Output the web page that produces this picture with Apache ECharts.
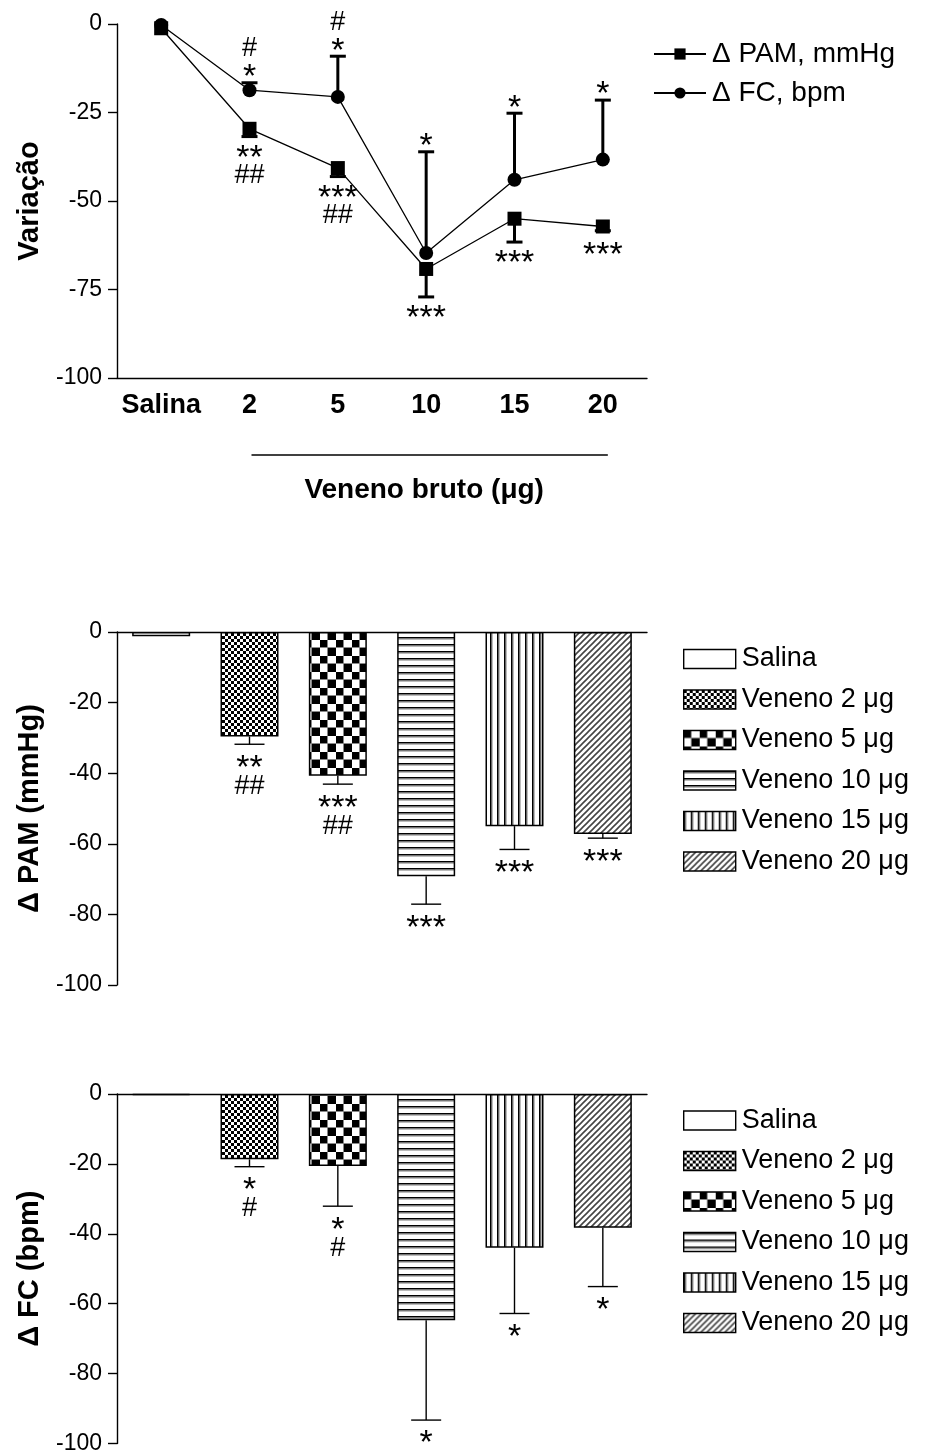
<!DOCTYPE html>
<html>
<head>
<meta charset="utf-8">
<script src="https://cdn.jsdelivr.net/npm/echarts@6/dist/echarts.min.js"></script>
<style>
  html, body { margin: 0; padding: 0; background: #fff; }
  #main { width: 925px; height: 1455px; }
</style>
</head>
<body>
<div id="main"></div>
<script>
// ---------- data ----------
const categories = ['Salina', '2', '5', '10', '15', '20'];
const groupNames = ['Salina', 'Veneno 2 μg', 'Veneno 5 μg', 'Veneno 10 μg', 'Veneno 15 μg', 'Veneno 20 μg'];
const pamMean = [-1.2, -29.6, -40.7, -69.2, -55.0, -57.2];
const pamSem  = [0, 2.2, 2.4, 7.9, 6.6, 1.2];
const fcMean  = [-0.3, -18.7, -20.6, -64.7, -44.0, -38.3];
const fcSem   = [0, 2.1, 11.5, 28.6, 18.8, 16.8];
const pamSig  = ['', '**\n##', '***\n##', '***', '***', '***'];
const fcSig   = ['', '*\n#', '*\n#', '*', '*', '*'];
const lineTicks = [0, -25, -50, -75, -100];
const barTicks  = [0, -20, -40, -60, -80, -100];
const lineNames = ['Δ PAM, mmHg', 'Δ FC, bpm'];
const xTitle = 'Veneno bruto (μg)';

// ---------- patterns ----------
function mk(w, h, draw) {
  const c = document.createElement('canvas');
  c.width = w; c.height = h;
  const g = c.getContext('2d');
  g.fillStyle = '#fff'; g.fillRect(0, 0, w, h);
  draw(g, w, h);
  return { image: c, repeat: 'repeat' };
}
const patterns = [
  '#ffffff',
  mk(6, 6, (g) => { g.fillStyle = '#000'; g.fillRect(0, 0, 3, 3); g.fillRect(3, 3, 3, 3); }),
  mk(16, 16, (g) => { g.fillStyle = '#000'; g.fillRect(0, 0, 8, 8); g.fillRect(8, 8, 8, 8);
                      g.fillStyle = '#888'; g.fillRect(7, 0, 1, 16); g.fillRect(0, 7, 16, 1); }),
  mk(8, 7, (g) => { g.fillStyle = '#000'; g.fillRect(0, 0, 8, 1); g.fillStyle = '#777'; g.fillRect(0, 1, 8, 1); g.fillStyle = '#bbb'; g.fillRect(0, 2, 8, 1); }),
  mk(7, 8, (g) => { g.fillStyle = '#000'; g.fillRect(0, 0, 1, 8); g.fillStyle = '#666'; g.fillRect(1, 0, 1, 8); g.fillStyle = '#bbb'; g.fillRect(2, 0, 1, 8); }),
  mk(6, 6, (g) => { g.strokeStyle = '#444'; g.lineWidth = 1.6;
                    g.beginPath(); g.moveTo(-1, 7); g.lineTo(7, -1); g.moveTo(-7, 7); g.lineTo(7, -7); g.moveTo(-1, 13); g.lineTo(13, -1); g.stroke(); })
];

// ---------- helpers ----------
const FONT = "'Liberation Sans', Arial, sans-serif";
const BLACK = '#000';

function errData(mean, sem, dir) {
  return mean.map((m, i) => [i, m, m + dir * sem[i]]);
}
function errRender(capHalf, width) {
  return function (params, api) {
    const p0 = api.coord([api.value(0), api.value(1)]);
    const p1 = api.coord([api.value(0), api.value(2)]);
    if (Math.abs(p1[1] - p0[1]) < 0.5) return;
    const st = { stroke: BLACK, lineWidth: width };
    return { type: 'group', children: [
      { type: 'line', shape: { x1: p0[0], y1: p0[1], x2: p1[0], y2: p1[1] }, style: st },
      { type: 'line', shape: { x1: p1[0] - capHalf, y1: p1[1], x2: p1[0] + capHalf, y2: p1[1] }, style: st }
    ]};
  };
}
function sigRender(sig, dir, markerHalf, first, step) {
  return function (params, api) {
    const s = sig[params.dataIndex];
    if (!s) return;
    const pm = api.coord([api.value(0), api.value(1)]);
    const pe = api.coord([api.value(0), api.value(2)]);
    const anchor = dir > 0 ? Math.max(pm[1] + markerHalf, pe[1]) : Math.min(pm[1] - markerHalf, pe[1]);
    const lines = s.split('\n');
    return { type: 'group', children: lines.map((ln, k) => {
      const star = ln[0] === '*';
      const target = anchor + dir * (first + k * step);
      return { type: 'text', style: {
        text: ln, x: pm[0], y: target + (star ? 8 : 0), align: 'center', verticalAlign: 'middle',
        fontFamily: FONT, fontSize: star ? 34 : 27, fill: BLACK
      }};
    })};
  };
}

const yAxisBase = (min, interval, name, gridIndex) => ({
  type: 'value', gridIndex, min, max: 0, interval, name,
  nameLocation: 'middle', nameRotate: 90, nameGap: 73,
  nameTextStyle: { fontFamily: FONT, fontWeight: 'bold', fontSize: 29, color: BLACK },
  axisLine: { show: true, onZero: false, lineStyle: { color: BLACK, width: 1.4 } },
  axisTick: { show: true, length: 9, lineStyle: { color: BLACK, width: 1.4 } },
  axisLabel: { fontFamily: FONT, fontSize: 23, color: BLACK, margin: 15 },
  splitLine: { show: false }
});

const grids = [
  { left: 117, width: 530, top: 24, height: 354 },
  { left: 117, width: 530, top: 632, height: 353 },
  { left: 117, width: 530, top: 1094, height: 353 }
];

const xAxes = [
  { type: 'category', gridIndex: 0, data: categories, boundaryGap: true,
    axisLine: { onZero: false, lineStyle: { color: BLACK, width: 1.4 } },
    axisTick: { alignWithLabel: true, interval: 0, length: 9, lineStyle: { color: BLACK, width: 1.4 } },
    axisLabel: { interval: 0, fontFamily: FONT, fontWeight: 'bold', fontSize: 27, color: BLACK, margin: 14 } },
  { type: 'category', gridIndex: 1, data: categories, position: 'top',
    axisLine: { onZero: true, lineStyle: { color: BLACK, width: 1.4 } },
    axisTick: { show: false }, axisLabel: { show: false } },
  { type: 'category', gridIndex: 2, data: categories, position: 'top',
    axisLine: { onZero: true, lineStyle: { color: BLACK, width: 1.4 } },
    axisTick: { show: false }, axisLabel: { show: false } }
];

const yAxes = [
  yAxisBase(lineTicks[lineTicks.length - 1], lineTicks[0] - lineTicks[1], 'Variação', 0),
  yAxisBase(barTicks[barTicks.length - 1], barTicks[0] - barTicks[1], 'Δ PAM (mmHg)', 1),
  yAxisBase(barTicks[barTicks.length - 1], barTicks[0] - barTicks[1], 'Δ FC (bpm)', 2)
];

const series = [];
// top: line chart
series.push({ type: 'custom', name: 'errPAM', xAxisIndex: 0, yAxisIndex: 0, z: 3,
  data: errData(pamMean, pamSem, -1), renderItem: errRender(8, 3), encode: { x: 0, y: [1, 2] }, silent: true });
series.push({ type: 'custom', name: 'errFC', xAxisIndex: 0, yAxisIndex: 0, z: 3,
  data: errData(fcMean, fcSem, 1), renderItem: errRender(8, 3), encode: { x: 0, y: [1, 2] }, silent: true });
series.push({ type: 'line', name: lineNames[0], xAxisIndex: 0, yAxisIndex: 0, data: pamMean, z: 4,
  symbol: 'rect', symbolSize: 14, lineStyle: { color: BLACK, width: 1.3 }, itemStyle: { color: BLACK } });
series.push({ type: 'line', name: lineNames[1], xAxisIndex: 0, yAxisIndex: 0, data: fcMean, z: 4,
  symbol: 'circle', symbolSize: 14, lineStyle: { color: BLACK, width: 1.3 }, itemStyle: { color: BLACK } });
series.push({ type: 'custom', name: 'sigPAM', xAxisIndex: 0, yAxisIndex: 0, z: 5,
  data: errData(pamMean, pamSem, -1), renderItem: sigRender(pamSig, 1, 7, 14, 25), encode: { x: 0, y: [1, 2] }, silent: true });
series.push({ type: 'custom', name: 'sigFC', xAxisIndex: 0, yAxisIndex: 0, z: 5,
  data: errData(fcMean, fcSem, 1), renderItem: sigRender(fcSig, -1, 7, 13, 21), encode: { x: 0, y: [1, 2] }, silent: true });

// bar charts
[[pamMean, pamSem, pamSig, 1], [fcMean, fcSem, fcSig, 2]].forEach(([mean, sem, sig, gi]) => {
  groupNames.forEach((nm, k) => {
    series.push({ type: 'bar', name: nm, xAxisIndex: gi, yAxisIndex: gi,
      data: mean.map((v, i) => (i === k ? v : '-')),
      barWidth: 58, barGap: '-100%',
      itemStyle: { color: patterns[k], borderColor: BLACK, borderWidth: 1.5 } });
  });
  series.push({ type: 'custom', xAxisIndex: gi, yAxisIndex: gi, z: 5,
    data: errData(mean, sem, -1), renderItem: errRender(15, 1.4), encode: { x: 0, y: [1, 2] }, silent: true });
  series.push({ type: 'custom', xAxisIndex: gi, yAxisIndex: gi, z: 5,
    data: errData(mean, sem, -1), renderItem: sigRender(sig, 1, 0, 16, 26), encode: { x: 0, y: [1, 2] }, silent: true });
});

const barLegend = (top) => ({
  orient: 'vertical', left: 683, top, padding: 0, itemWidth: 52, itemHeight: 19, itemGap: 11.5,
  selectedMode: false, data: groupNames, icon: 'rect',
  itemStyle: { borderColor: BLACK, borderWidth: 1.4 },
  textStyle: { fontFamily: FONT, fontSize: 27, color: BLACK, lineHeight: 29, padding: [0, 0, 0, 1] }
});

const option = {
  animation: false,
  backgroundColor: '#fff',
  grid: grids,
  xAxis: xAxes,
  yAxis: yAxes,
  legend: [
    { orient: 'vertical', left: 653, top: 39, padding: 0, itemWidth: 52, itemHeight: 14, itemGap: 9,
      selectedMode: false, data: lineNames,
      textStyle: { fontFamily: FONT, fontSize: 28, color: BLACK, lineHeight: 30, padding: [0, 0, 0, 1] } },
    barLegend(644.5),
    barLegend(1106)
  ],
  series
};

const chart = echarts.init(document.getElementById('main'), null, { renderer: 'canvas' });
chart.setOption(option);

// bracket line + title under the dose categories
const xa = chart.convertToPixel({ xAxisIndex: 0 }, categories[1]);
const xb = chart.convertToPixel({ xAxisIndex: 0 }, categories[categories.length - 1]);
chart.setOption({
  graphic: [
    { type: 'line', shape: { x1: xa + 2, y1: 455, x2: xb + 5, y2: 455 }, style: { stroke: BLACK, lineWidth: 1.4 } },
    { type: 'text', x: (xa + xb) / 2 - 2, y: 490, style: { text: xTitle, align: 'center', verticalAlign: 'middle',
      fontFamily: FONT, fontWeight: 'bold', fontSize: 28, fill: BLACK } }
  ]
});
</script>
</body>
</html>
